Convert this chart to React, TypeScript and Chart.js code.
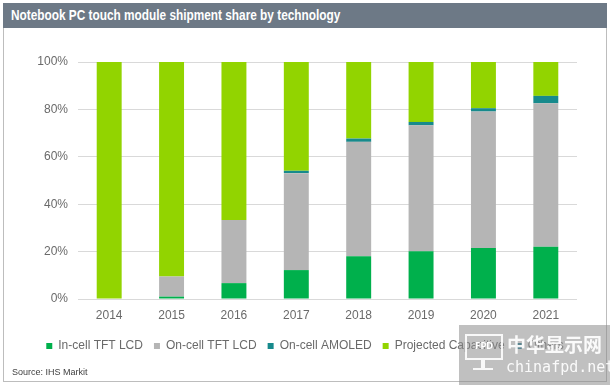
import React, { useEffect, useRef } from "react";
import { Chart, registerables } from "chart.js";

Chart.register(...registerables);

const years = ["2014", "2015", "2016", "2017", "2018", "2019", "2020", "2021"];
const inCellTFT = [0, 1.0, 6.7, 12.2, 18.0, 20.2, 21.5, 22.0];
const onCellTFT = [0, 8.5, 26.6, 40.9, 48.3, 53.1, 57.6, 60.6];
const onCellAMOLED = [0, 0, 0, 1.0, 1.4, 1.4, 1.4, 3.1];
const projectedCap = [100, 90.5, 66.7, 45.9, 32.3, 25.3, 19.5, 14.3];
const others = [0, 0, 0, 0, 0, 0, 0, 0];
const yTicks = [0, 20, 40, 60, 80, 100];

const title = "Notebook PC touch module shipment share by technology";
const source = "Source: IHS Markit";

export default function App() {
  const ref = useRef<HTMLCanvasElement | null>(null);

  useEffect(() => {
    if (!ref.current) return;
    const font = "'Liberation Sans', Arial, sans-serif";
    const chart = new Chart(ref.current, {
      type: "bar",
      data: {
        labels: years,
        datasets: [
          { label: "In-cell TFT LCD", data: inCellTFT, backgroundColor: "#00B04C" },
          { label: "On-cell TFT LCD", data: onCellTFT, backgroundColor: "#B5B5B5" },
          { label: "On-cell AMOLED", data: onCellAMOLED, backgroundColor: "#178A8C" },
          { label: "Projected Capacitive", data: projectedCap, backgroundColor: "#92D400" },
          { label: "Others", data: others, backgroundColor: "#1F7C96" },
        ],
      },
      options: {
        responsive: false,
        animation: false,
        datasets: {
          bar: { barPercentage: 0.4, categoryPercentage: 1, borderWidth: 0 },
        },
        layout: { padding: { top: 62, right: 33, bottom: 23, left: 33 } },
        plugins: {
          title: { display: false },
          tooltip: { enabled: false },
          legend: {
            position: "bottom",
            labels: {
              boxWidth: 6,
              boxHeight: 6,
              padding: 11,
              color: "#6A6A6A",
              font: { family: font, size: 12 },
            },
          },
        },
        scales: {
          x: {
            stacked: true,
            grid: { display: false },
            border: { display: false },
            ticks: { color: "#6A6A6A", font: { family: font, size: 12 }, padding: 1 },
            afterFit: (s: any) => {
              s.height = 30;
            },
          },
          y: {
            stacked: true,
            min: 0,
            max: 100,
            grid: { color: "#D9D9D9", drawTicks: false, lineWidth: 1 },
            border: { display: false },
            afterBuildTicks: (s: any) => {
              s.ticks = yTicks.map((v) => ({ value: v }));
            },
            ticks: {
              color: "#6A6A6A",
              font: { family: font, size: 12 },
              padding: 10,
              callback: (v: any) => `${v}%`,
            },
            afterFit: (s: any) => {
              s.width = 45;
            },
          },
        },
      },
    });
    return () => chart.destroy();
  }, []);

  return (
    <div style={{ position: "fixed", left: 0, top: 0, width: 610, height: 385, background: "#fff", overflow: "hidden" }}>
      <div
        style={{
          position: "absolute",
          left: 3,
          top: 3,
          width: 602,
          height: 377,
          border: "1px solid #BDBDBD",
        }}
      />
      <div
        style={{
          position: "absolute",
          left: 3,
          top: 3,
          width: 604,
          height: 25,
          background: "#6D7986",
        }}
      >
        <div
          style={{
            position: "absolute",
            left: 8,
            top: 0,
            color: "#fff",
            fontFamily: "'Liberation Sans', Arial, sans-serif",
            fontWeight: "bold",
            fontSize: 14,
            lineHeight: "25px",
            whiteSpace: "nowrap",
            transform: "scaleX(0.845)",
            transformOrigin: "0 50%",
          }}
        >
          {title}
        </div>
      </div>
      <canvas ref={ref} width={610} height={385} style={{ position: "absolute", left: 0, top: 0, display: "block" }} />
      <div
        style={{
          position: "absolute",
          left: 12,
          top: 367,
          fontFamily: "'Liberation Sans', Arial, sans-serif",
          fontSize: 9,
          color: "#404040",
          whiteSpace: "nowrap",
        }}
      >
        {source}
      </div>
      <div
        style={{
          position: "absolute",
          left: 459,
          top: 325,
          width: 151,
          height: 60,
          background: "rgba(140,140,140,0.55)",
        }}
      >
        <div
          style={{
            position: "absolute",
            left: 6,
            top: 9,
            width: 34,
            height: 22,
            border: "2px solid rgba(255,255,255,0.9)",
            color: "#fff",
            fontFamily: "'DejaVu Sans', sans-serif",
            fontSize: 8,
            fontWeight: "bold",
            textAlign: "center",
            lineHeight: "22px",
          }}
        >
          FPD
        </div>
        <div style={{ position: "absolute", left: 22, top: 35, width: 4, height: 8, background: "rgba(255,255,255,0.9)" }} />
        <div style={{ position: "absolute", left: 14, top: 43, width: 20, height: 2, background: "rgba(255,255,255,0.9)" }} />
        <div
          style={{
            position: "absolute",
            left: 48,
            top: 8,
            color: "rgba(255,255,255,0.92)",
            fontFamily: "'Noto Sans CJK SC', sans-serif",
            fontSize: 19,
            fontWeight: "bold",
            lineHeight: "22px",
            whiteSpace: "nowrap",
          }}
        >
          中华显示网
        </div>
        <div
          style={{
            position: "absolute",
            left: 47,
            top: 33,
            color: "rgba(255,255,255,0.92)",
            fontFamily: "'DejaVu Sans Mono', monospace",
            fontSize: 15,
            lineHeight: "18px",
            whiteSpace: "nowrap",
          }}
        >
          chinafpd.net
        </div>
      </div>
    </div>
  );
}
